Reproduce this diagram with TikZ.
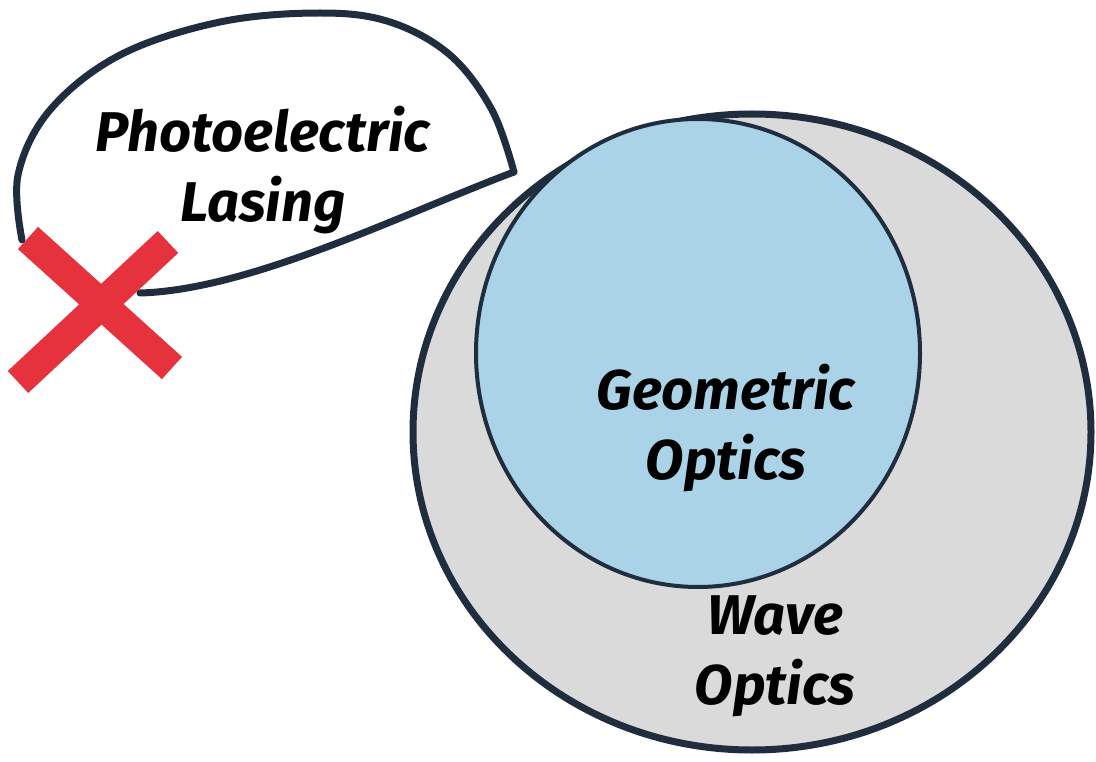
\documentclass[tikz,border=0pt]{standalone}
\usepackage{fontspec}
\setmainfont{Fira Sans}
\begin{document}
\begin{tikzpicture}[x=1pt,y=-1pt,
  outline/.style={draw=navy,line width=7pt,line join=round,line cap=round},
  lbl/.style={font=\fontsize{56}{70}\selectfont\itshape\bfseries,align=center,text=black,inner sep=0pt},
  crossstroke/.style={draw=xred,line width=30pt,line cap=butt}]
\definecolor{navy}{HTML}{1F2D3F}
\definecolor{greyfill}{HTML}{DADADA}
\definecolor{bluefill}{HTML}{ABD3E8}
\definecolor{xred}{HTML}{E5323C}
\useasboundingbox (0,0) rectangle (1096,762);
% outer circle
\path[outline,fill=greyfill] (752,432) ellipse [x radius=339, y radius=318];
% inner circle
\path[draw=navy,line width=4pt,fill=bluefill] (698,353) ellipse [x radius=222, y radius=234];
% photoelectric loop
\coordinate (tip) at (514,172);
\coordinate (tail) at (140,293);
\path[outline] (tail) .. controls (250,290) and (400,215) .. (tip);
\path[outline] plot[smooth,tension=0.6] coordinates {(514,172) (492,110) (450,55) (390,22) (320,13) (220,22) (120,55) (50,110) (18,175) (22,240)};
% red cross
\coordinate (c1a) at (28,238);
\coordinate (c1b) at (172,368);
\coordinate (c2a) at (168,242);
\coordinate (c2b) at (18,382);
\path[crossstroke] (c1a) -- (c1b);
\path[crossstroke] (c2a) -- (c2b);
% labels
\node[lbl] (pl) at (263,170) {Photoelectric\\Lasing};
\node[lbl] (go) at (726,428) {Geometric\\Optics};
\node[lbl] (wo) at (775,656) {Wave\\Optics};
\end{tikzpicture}
\end{document}
